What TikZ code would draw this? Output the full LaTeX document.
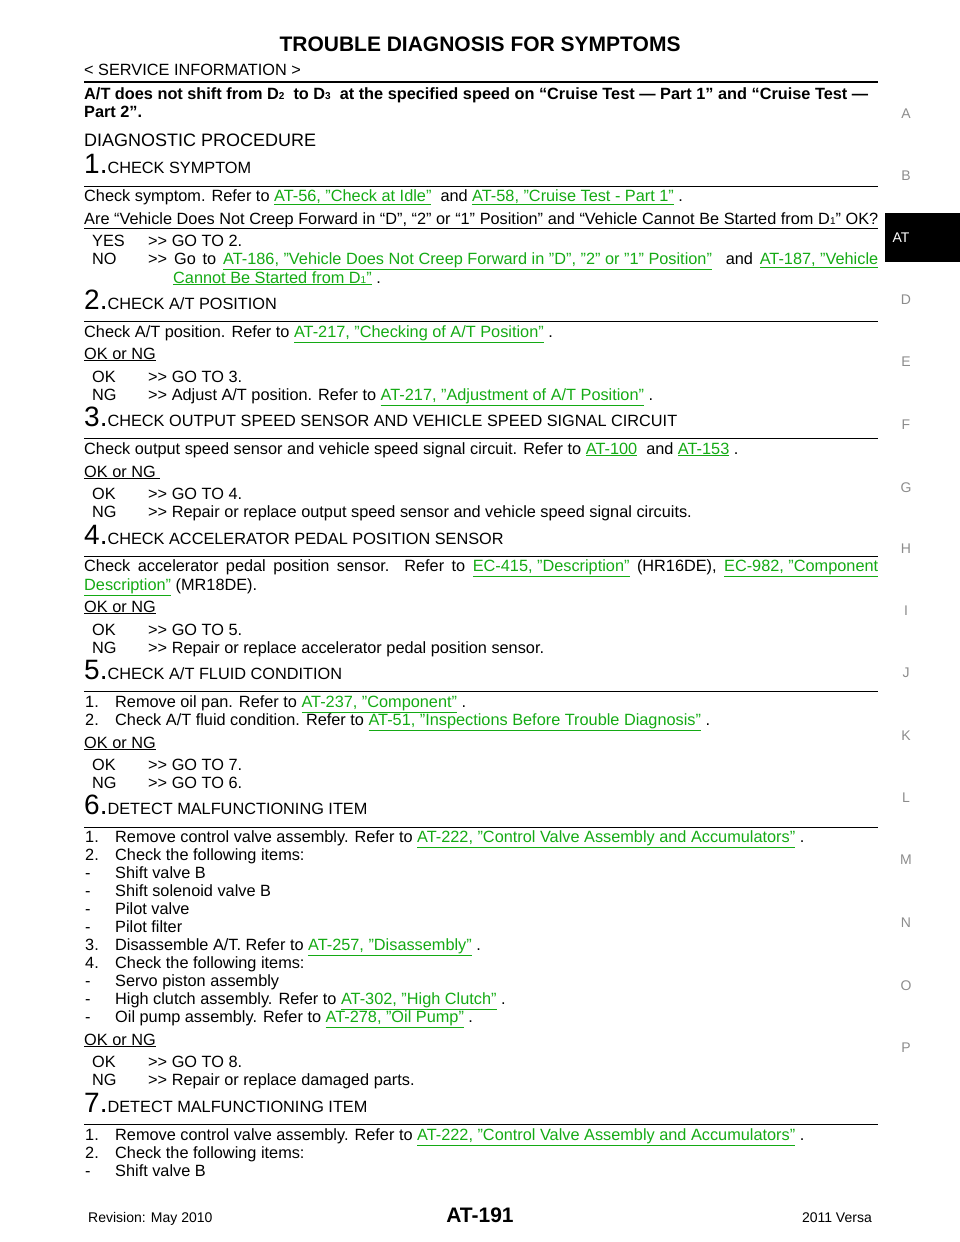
\documentclass[tikz,border=0pt]{standalone}
\usepackage{fontspec}
\defaultfontfeatures{}
\setmainfont{Liberation Sans}[Ligatures=ResetAll]
\definecolor{lnk}{RGB}{20,170,20}
\newcommand{\lk}[1]{\textcolor{lnk}{\underline{#1}}}
\newcommand{\dsub}[1]{{\fontsize{10}{10}\selectfont #1}}
\newcommand{\stepno}[2]{{\fontsize{28}{28}\selectfont #1.}#2}
\newcommand{\gt}{{>}{>}}
\newcommand{\qq}{\symbol{34}}
\tikzset{
  txt/.style={anchor=base west,inner sep=0pt,font=\fontsize{16.3}{18}\selectfont},
  rulethin/.style={line width=1pt},
  side/.style={anchor=center,text=black!45,font=\fontsize{14}{14}\selectfont}
}
\newcommand{\tl}[3]{\node[txt] at (#2,-#1-5) {#3};}
\begin{document}
\begin{tikzpicture}[x=1pt,y=1pt]
\useasboundingbox (0,0) rectangle (960,-1242);
% header
\node[font=\fontsize{21}{21}\selectfont\bfseries,inner sep=0pt] at (480,-44) {TROUBLE DIAGNOSIS FOR SYMPTOMS};
\tl{70}{84}{< SERVICE INFORMATION >}
\draw[line width=2pt] (84,-82) -- (878,-82);
\tl{94}{84}{\bfseries A/T does not shift from D\dsub{2}\ \ to D\dsub{3}\ \ at the specified speed on “Cruise Test — Part 1” and “Cruise Test —}
\tl{112}{84}{\bfseries Part 2”.}
\node[txt,font=\fontsize{18}{20}\selectfont] at (84,-146) {DIAGNOSTIC PROCEDURE};
% side tabs
\fill (885,-213) rectangle (960,-262);
\node[side,text=white] at (901,-238) {AT};
\foreach \l/\yy in {A/114,B/176,D/300,E/362,F/425,G/488,H/549,I/611,J/673,K/736,L/798,M/860,N/923,O/986,P/1048}
  \node[side] at (906,-\yy) {\l};
% step 1
\tl{168}{84}{\stepno{1}{CHECK SYMPTOM}}
\draw[rulethin] (84,-186) -- (878,-186);
\tl{196}{84}{Check symptom. Refer to \lk{AT-56, \qq Check at Idle\qq}\ \ and \lk{AT-58, \qq Cruise Test - Part 1\qq} .}
\tl{219}{84}{\makebox[794pt][s]{Are “Vehicle Does Not Creep Forward in “D”, “2” or “1” Position” and “Vehicle Cannot Be Started from D\dsub{1}” OK?}}
\draw[line width=0.8pt] (84,-228) -- (878,-228);
\tl{241}{92}{YES}\tl{241}{148}{\gt{} GO TO 2.}
\tl{259}{92}{NO}\tl{259}{148}{\makebox[730pt][s]{\gt{} Go to \lk{AT-186, \qq Vehicle Does Not Creep Forward in \qq D\qq, \qq 2\qq\ or \qq 1\qq\ Position\qq}\ \ and \lk{AT-187, \qq Vehicle}}}
\tl{278}{173}{\lk{Cannot Be Started from D\dsub{1}\qq} .}
% step 2
\tl{304}{84}{\stepno{2}{CHECK A/T POSITION}}
\draw[rulethin] (84,-321) -- (878,-321);
\tl{332}{84}{Check A/T position. Refer to \lk{AT-217, \qq Checking of A/T Position\qq} .}
\tl{354}{84}{\underline{OK or NG}}
\tl{377}{92}{OK}\tl{377}{148}{\gt{} GO TO 3.}
\tl{395}{92}{NG}\tl{395}{148}{\gt{} Adjust A/T position. Refer to \lk{AT-217, \qq Adjustment of A/T Position\qq} .}
% step 3
\tl{421}{84}{\stepno{3}{CHECK OUTPUT SPEED SENSOR AND VEHICLE SPEED SIGNAL CIRCUIT}}
\draw[rulethin] (84,-438) -- (878,-438);
\tl{449}{84}{Check output speed sensor and vehicle speed signal circuit. Refer to \lk{AT-100}\ \ and \lk{AT-153} .}
\tl{472}{84}{\underline{OK or NG\ }}
\tl{494}{92}{OK}\tl{494}{148}{\gt{} GO TO 4.}
\tl{512}{92}{NG}\tl{512}{148}{\gt{} Repair or replace output speed sensor and vehicle speed signal circuits.}
% step 4
\tl{539}{84}{\stepno{4}{CHECK ACCELERATOR PEDAL POSITION SENSOR}}
\draw[rulethin] (84,-556) -- (878,-556);
\tl{566}{84}{\makebox[794pt][s]{Check accelerator pedal position sensor. Refer to \lk{EC-415, \qq Description\qq} (HR16DE), \lk{EC-982, \qq Component}}}
\tl{585}{84}{\lk{Description\qq} (MR18DE).}
\tl{607}{84}{\underline{OK or NG}}
\tl{630}{92}{OK}\tl{630}{148}{\gt{} GO TO 5.}
\tl{648}{92}{NG}\tl{648}{148}{\gt{} Repair or replace accelerator pedal position sensor.}
% step 5
\tl{674}{84}{\stepno{5}{CHECK A/T FLUID CONDITION}}
\draw[rulethin] (84,-691) -- (878,-691);
\tl{702}{85}{1.}\tl{702}{115}{Remove oil pan. Refer to \lk{AT-237, \qq Component\qq} .}
\tl{720}{85}{2.}\tl{720}{115}{Check A/T fluid condition. Refer to \lk{AT-51, \qq Inspections Before Trouble Diagnosis\qq} .}
\tl{743}{84}{\underline{OK or NG}}
\tl{765}{92}{OK}\tl{765}{148}{\gt{} GO TO 7.}
\tl{783}{92}{NG}\tl{783}{148}{\gt{} GO TO 6.}
% step 6
\tl{809}{84}{\stepno{6}{DETECT MALFUNCTIONING ITEM}}
\draw[rulethin] (84,-827) -- (878,-827);
\tl{837}{85}{1.}\tl{837}{115}{Remove control valve assembly. Refer to \lk{AT-222, \qq Control Valve Assembly and Accumulators\qq} .}
\tl{855}{85}{2.}\tl{855}{115}{Check the following items:}
\tl{873}{85}{-}\tl{873}{115}{Shift valve B}
\tl{891}{85}{-}\tl{891}{115}{Shift solenoid valve B}
\tl{909}{85}{-}\tl{909}{115}{Pilot valve}
\tl{927}{85}{-}\tl{927}{115}{Pilot filter}
\tl{945}{85}{3.}\tl{945}{115}{Disassemble A/T. Refer to \lk{AT-257, \qq Disassembly\qq} .}
\tl{963}{85}{4.}\tl{963}{115}{Check the following items:}
\tl{981}{85}{-}\tl{981}{115}{Servo piston assembly}
\tl{999}{85}{-}\tl{999}{115}{High clutch assembly. Refer to \lk{AT-302, \qq High Clutch\qq} .}
\tl{1017}{85}{-}\tl{1017}{115}{Oil pump assembly. Refer to \lk{AT-278, \qq Oil Pump\qq} .}
\tl{1040}{84}{\underline{OK or NG}}
\tl{1062}{92}{OK}\tl{1062}{148}{\gt{} GO TO 8.}
\tl{1080}{92}{NG}\tl{1080}{148}{\gt{} Repair or replace damaged parts.}
% step 7
\tl{1107}{84}{\stepno{7}{DETECT MALFUNCTIONING ITEM}}
\draw[rulethin] (84,-1124) -- (878,-1124);
\tl{1135}{85}{1.}\tl{1135}{115}{Remove control valve assembly. Refer to \lk{AT-222, \qq Control Valve Assembly and Accumulators\qq} .}
\tl{1153}{85}{2.}\tl{1153}{115}{Check the following items:}
\tl{1171}{85}{-}\tl{1171}{115}{Shift valve B}
% footer
\node[txt,font=\fontsize{14}{14}\selectfont] at (88,-1222) {Revision: May 2010};
\node[font=\fontsize{21}{21}\selectfont\bfseries,inner sep=0pt] at (480,-1215) {AT-191};
\node[anchor=base east,inner sep=0pt,font=\fontsize{14}{14}\selectfont] at (872,-1222) {2011 Versa};
\end{tikzpicture}
\end{document}
